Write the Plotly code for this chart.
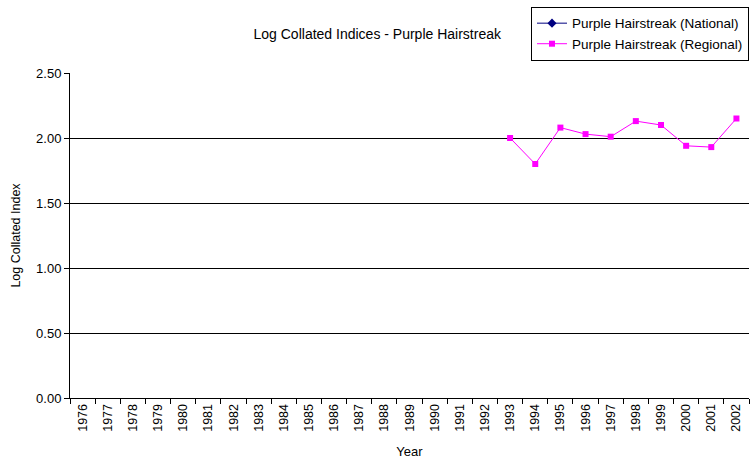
import plotly.graph_objects as go

years = [str(y) for y in range(1976, 2003)]
national = [None] * len(years)
regional_years = ["1993", "1994", "1995", "1996", "1997", "1998", "1999", "2000", "2001", "2002"]
regional = [2.00, 1.80, 2.08, 2.03, 2.01, 2.13, 2.10, 1.94, 1.93, 2.15]

font = "Liberation Sans, Arial, sans-serif"

fig = go.Figure()
fig.add_trace(go.Scatter(
    x=years, y=national, mode="lines+markers", name="Purple Hairstreak (National)",
    line=dict(color="#000080", width=1), marker=dict(symbol="diamond", size=7, color="#000080"),
))
fig.add_trace(go.Scatter(
    x=regional_years, y=regional, mode="lines+markers", name="Purple Hairstreak (Regional)",
    line=dict(color="#FF00FF", width=1), marker=dict(symbol="square", size=6, color="#FF00FF"),
))

fig.update_layout(
    width=750, height=459,
    margin=dict(l=70, r=1, t=73, b=61),
    paper_bgcolor="white", plot_bgcolor="white",
    font=dict(family=font, size=12, color="black"),
    title=dict(text="Log Collated Indices - Purple Hairstreak", x=0.503, xanchor="center",
               y=0.925, yanchor="middle", font=dict(size=14, family=font)),
    showlegend=True,
    legend=dict(x=1, xanchor="right", y=0.985, yanchor="top", yref="container",
                bordercolor="black", borderwidth=1, bgcolor="white",
                font=dict(size=13.5, family=font), tracegroupgap=0, itemwidth=30),
    xaxis=dict(
        type="category", categoryorder="array", categoryarray=years,
        range=[-0.5, len(years) - 0.5],
        tickangle=-90, tickson="boundaries", ticks="outside", ticklen=5, tickcolor="black",
        showline=True, linecolor="black", linewidth=1, showgrid=False,
        title=dict(text="Year", font=dict(size=13), standoff=17),
        tickfont=dict(size=12.5),
    ),
    yaxis=dict(
        range=[0, 2.5], dtick=0.5, tickformat=".2f",
        ticks="outside", ticklen=5, tickcolor="black",
        showline=True, linecolor="black", linewidth=1,
        showgrid=True, gridcolor="black", gridwidth=1,
        title=dict(text="Log Collated Index", font=dict(size=12.5), standoff=12),
        tickfont=dict(size=13), zeroline=False,
    ),
)

fig.write_html("out.html", config={"displayModeBar": False},
               post_script="document.body.style.margin='0';document.body.style.overflow='hidden';")
